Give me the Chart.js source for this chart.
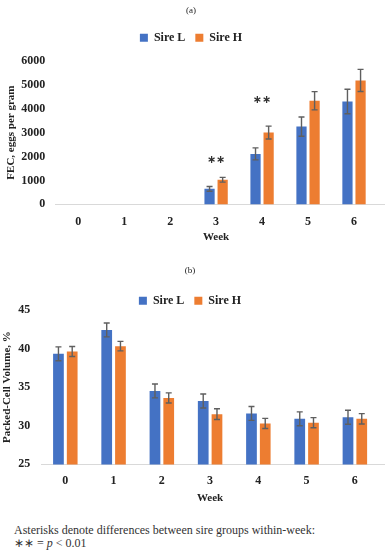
<!DOCTYPE html>
<html><head><meta charset="utf-8">
<script src="https://cdn.jsdelivr.net/npm/chart.js@4"></script>
<style>
html,body{margin:0;padding:0;background:#fff;width:385px;height:550px;overflow:hidden}
#wa{position:absolute;left:0;top:0;width:385px;height:250px}
#wb{position:absolute;left:0;top:250px;width:385px;height:260px}
#note{position:absolute;left:14px;top:524px;font:12px "Liberation Serif",serif;color:#333;line-height:12.5px;white-space:nowrap}
</style></head><body>
<div id="wa"><canvas id="ca"></canvas></div>
<div id="wb"><canvas id="cb"></canvas></div>
<div id="note">Asterisks denote differences between sire groups within-week:<br>∗∗ = <i>p</i> &lt; 0.01</div>
<script>
const weeks = ['0','1','2','3','4','5','6'];
const seriesNames = ['Sire L','Sire H'];
const fecL = [0,0,0,650,2110,3250,4300];
const fecH = [0,0,0,1030,3000,4330,5180];
const fecErrL = [0,0,0,100,250,400,510];
const fecErrH = [0,0,0,100,270,380,460];
const fecStars = [null,null,null,1850,4370,null,null];
const pcvL = [39.3,42.4,34.5,33.2,31.6,30.9,31.1];
const pcvH = [39.6,40.3,33.6,31.5,30.3,30.4,30.9];
const pcvErrL = [0.9,0.9,0.9,0.9,0.9,0.9,0.9];
const pcvErrH = [0.65,0.62,0.65,0.69,0.65,0.65,0.67];
const pcvStars = [null,null,null,null,null,null,null];

const BLUE='#4472C4', ORANGE='#ED7D31', TXT='#222';
const SERIF='"Liberation Serif", "DejaVu Serif", serif';

const extrasPlugin = {
  id:'extras',
  beforeLayout(chart, args, opts){
    const lg = chart.legend;
    if(lg && !lg._patched){
      const f = lg.fit.bind(lg);
      lg.fit = function(){ f(); this.height += (chart.options.plugins.extras.legendExtra||0); };
      lg._patched = true;
    }
  },
  afterDatasetsDraw(chart, args, opts){
    const ctx=chart.ctx, y=chart.scales.y, x=chart.scales.x, ca=chart.chartArea;
    ctx.save();
    ctx.strokeStyle='#d9d9d9'; ctx.lineWidth=1;
    ctx.beginPath(); ctx.moveTo(ca.right, Math.round(ca.bottom)+0.5); ctx.lineTo(chart.width, Math.round(ca.bottom)+0.5); ctx.stroke();
    ctx.strokeStyle='#5f5f5f'; ctx.lineWidth=1.4;
    chart.data.datasets.forEach((ds,i)=>{
      const meta=chart.getDatasetMeta(i);
      meta.data.forEach((el,j)=>{
        const e=ds.err[j]; if(!e) return;
        const v=ds.data[j];
        const y1=y.getPixelForValue(v+e), y2=y.getPixelForValue(v-e);
        ctx.beginPath();
        ctx.moveTo(el.x,y1); ctx.lineTo(el.x,y2);
        ctx.moveTo(el.x-3,y1); ctx.lineTo(el.x+3,y1);
        ctx.moveTo(el.x-3,y2); ctx.lineTo(el.x+3,y2);
        ctx.stroke();
      });
    });
    ctx.fillStyle='#333'; ctx.font='bold 11px "DejaVu Sans"'; ctx.textAlign='center'; ctx.textBaseline='middle';
    (opts.stars||[]).forEach((s,j)=>{
      if(s==null) return;
      ctx.fillText('∗∗', x.getPixelForValue(j), y.getPixelForValue(s));
    });
    ctx.restore();
  }
};

function makeChart(id, title, yTitle, dL, dH, eL, eH, stars, ymin, ymax, step, pad){
  return new Chart(document.getElementById(id), {
    type:'bar',
    data:{labels:weeks, datasets:[
      {label:seriesNames[0], data:dL, err:eL, backgroundColor:BLUE, categoryPercentage:0.57, barPercentage:0.78},
      {label:seriesNames[1], data:dH, err:eH, backgroundColor:ORANGE, categoryPercentage:0.57, barPercentage:0.78}
    ]},
    options:{
      responsive:true, maintainAspectRatio:false, animation:false,
      layout:{padding:{left:pad.left,right:pad.right,top:pad.top,bottom:pad.bottom}},
      plugins:{
        title:{display:true, text:title, color:TXT, font:{family:SERIF, size:9, weight:'normal'}, padding:{top:5,bottom:pad.titleBottom}},
        legend:{labels:{color:TXT, boxWidth:8, boxHeight:8, padding:10, font:{family:SERIF, size:12, weight:'bold'}}},
        tooltip:{enabled:false},
        extras:{stars:stars, legendExtra:pad.legendExtra}
      },
      scales:{
        x:{grid:{display:false,drawTicks:false}, border:{display:true,color:'#d9d9d9',width:1},
           ticks:{color:TXT, padding:pad.xtick, font:{family:SERIF,size:12,weight:'bold'}},
           title:{display:true,text:'Week',color:TXT,font:{family:SERIF,size:11,weight:'bold'},padding:{top:pad.xtitle,bottom:0}}},
        y:{min:ymin,max:ymax, grid:{display:false,drawTicks:false}, border:{display:false},
           ticks:{stepSize:step,color:TXT,padding:pad.tick,font:{family:SERIF,size:12,weight:'bold'},callback:v=>String(v)},
           title:{display:true,text:yTitle,color:TXT,font:{family:SERIF,size:11,weight:'bold'},padding:{top:0,bottom:pad.ytitle}}}
      }
    },
    plugins:[extrasPlugin]
  });
}

makeChart('ca','(a)','FEC, eggs per gram',fecL,fecH,fecErrL,fecErrH,fecStars,0,6000,1000,
  {left:5,right:8,top:0,bottom:6,tick:10,ytitle:-7,titleBottom:6,legendExtra:7,xtick:10,xtitle:-8});
makeChart('cb','(b)','Packed-Cell Volume, %',pcvL,pcvH,pcvErrL,pcvErrH,pcvStars,25,45,5,
  {left:1,right:6,top:10,bottom:5,tick:11,ytitle:-7,titleBottom:9,legendExtra:-7,xtick:9,xtitle:-5});
</script>
</body></html>
